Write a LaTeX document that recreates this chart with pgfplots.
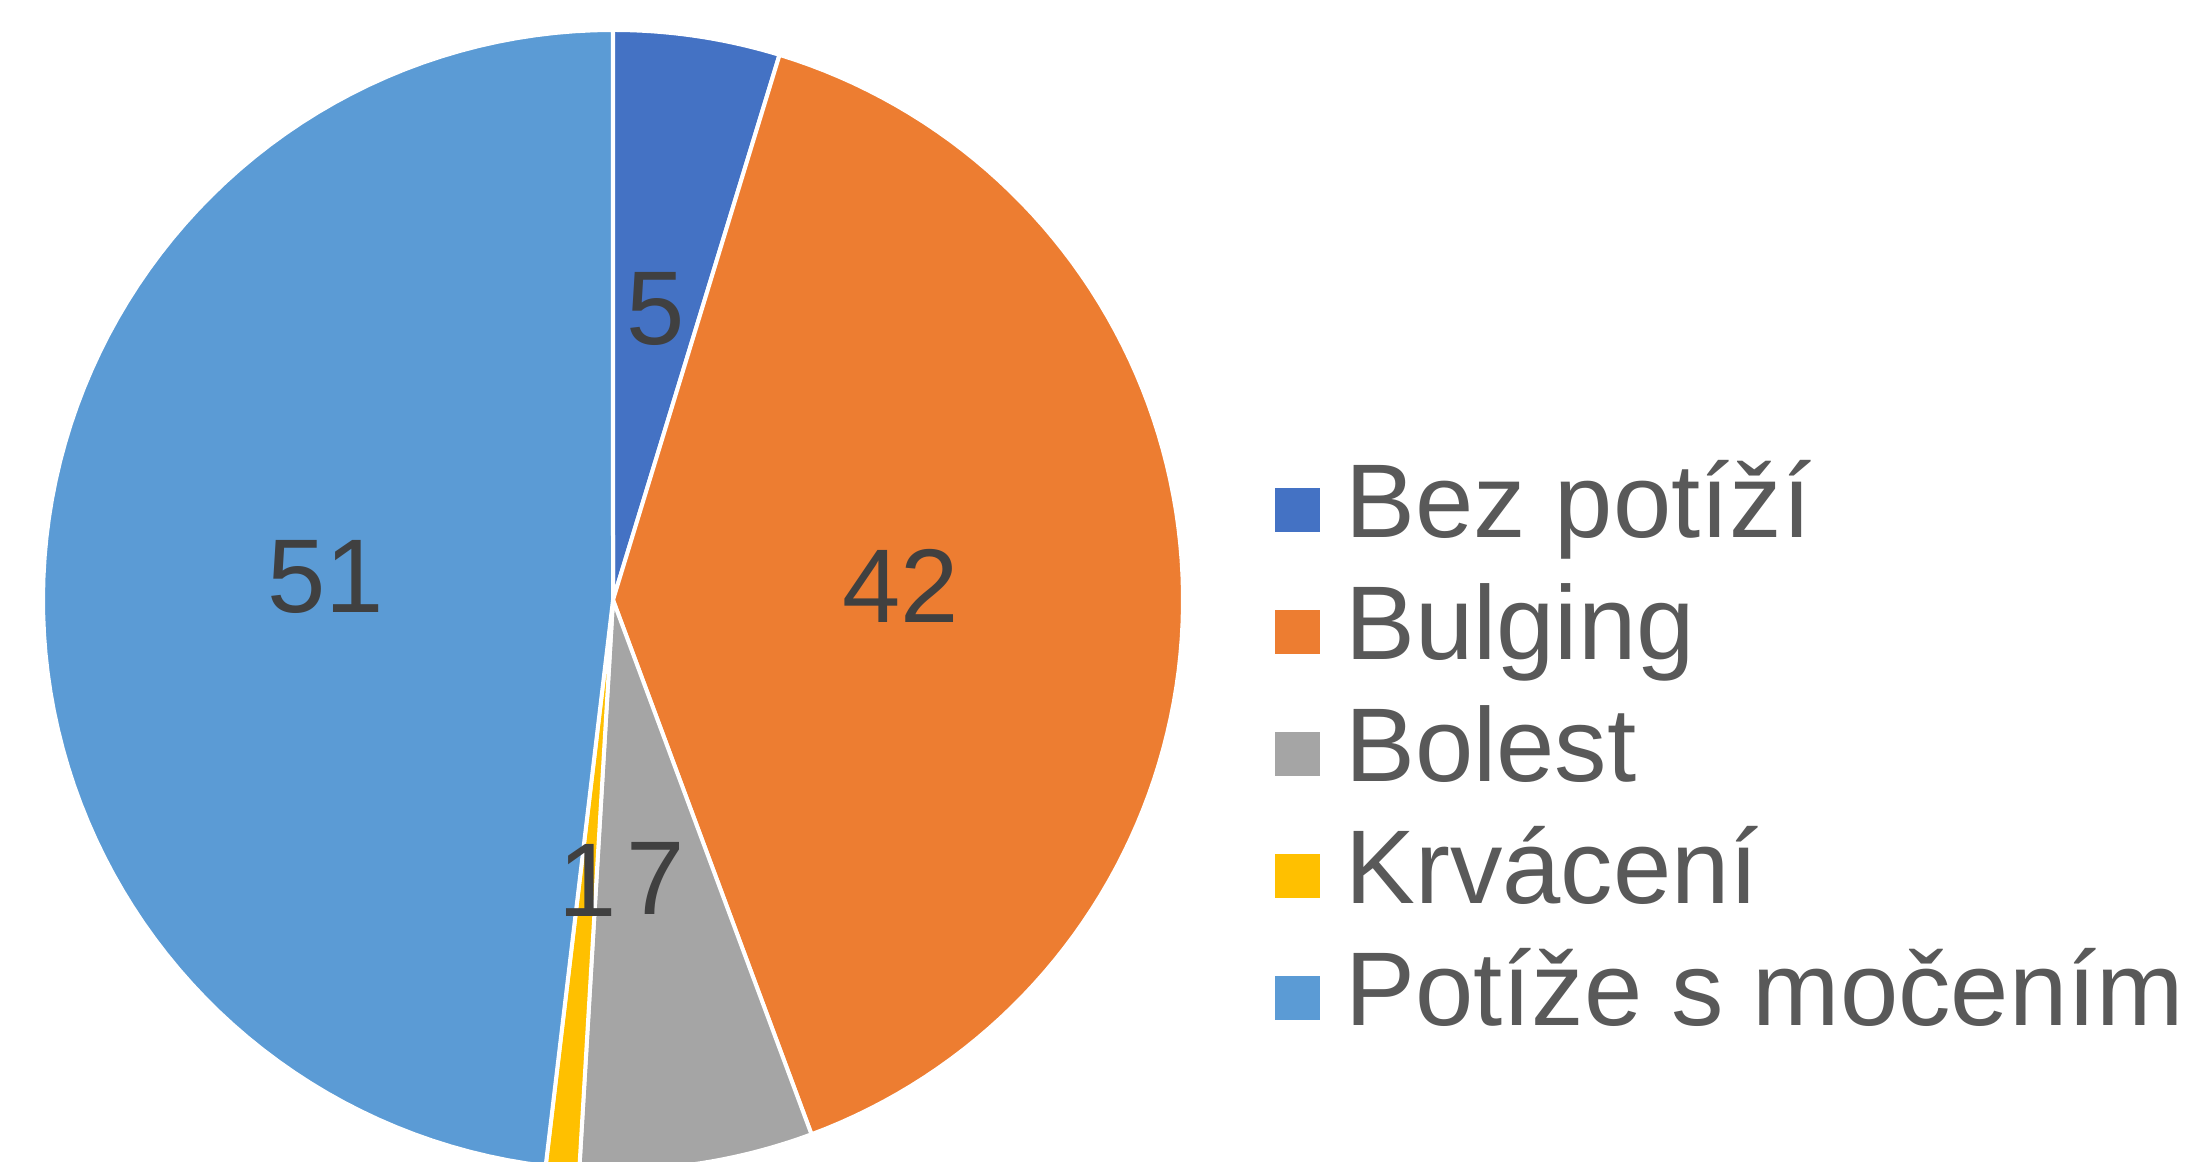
\documentclass[border=0pt]{standalone}
\usepackage{fontspec}
\setmainfont{Liberation Sans}
\usepackage{pgfplots}
\pgfplotsset{compat=1.18}
\definecolor{cA}{HTML}{4472C4}
\definecolor{cB}{HTML}{ED7D31}
\definecolor{cC}{HTML}{A5A5A5}
\definecolor{cD}{HTML}{FFC000}
\definecolor{cE}{HTML}{5B9BD5}
\definecolor{lbl}{HTML}{404040}
\definecolor{legtxt}{HTML}{595959}
\begin{document}
\begin{tikzpicture}
% values: Bez potizi 5, Bulging 42, Bolest 7, Krvaceni 1, Potize s mocenim 51
\pgfmathsetmacro{\vA}{5}
\pgfmathsetmacro{\vB}{42}
\pgfmathsetmacro{\vC}{7}
\pgfmathsetmacro{\vD}{1}
\pgfmathsetmacro{\vE}{51}
\pgfmathsetmacro{\tot}{\vA+\vB+\vC+\vD+\vE}
\pgfmathsetmacro{\aA}{90}
\pgfmathsetmacro{\aB}{\aA-\vA/\tot*360}
\pgfmathsetmacro{\aC}{\aB-\vB/\tot*360}
\pgfmathsetmacro{\aD}{\aC-\vC/\tot*360}
\pgfmathsetmacro{\aE}{\aD-\vD/\tot*360}
\pgfmathsetmacro{\aF}{\aE-\vE/\tot*360}
\def\cx{613}\def\cy{562}\def\rr{570}
\pgfmathsetmacro{\lr}{0.505*\rr}
\pgfmathsetmacro{\ly}{\cy+6}
\pgfmathsetmacro{\lAx}{\cx+\lr*cos((\aA+\aB)/2)}\pgfmathsetmacro{\lAy}{\ly+\lr*sin((\aA+\aB)/2)}
\pgfmathsetmacro{\lBx}{\cx+\lr*cos((\aB+\aC)/2)}\pgfmathsetmacro{\lBy}{\ly+\lr*sin((\aB+\aC)/2)}
\pgfmathsetmacro{\lCx}{\cx+\lr*cos((\aC+\aD)/2)}\pgfmathsetmacro{\lCy}{\ly+\lr*sin((\aC+\aD)/2)}
\pgfmathsetmacro{\lDx}{\cx+\lr*cos((\aD+\aE)/2)}\pgfmathsetmacro{\lDy}{\ly+\lr*sin((\aD+\aE)/2)}
\pgfmathsetmacro{\lEx}{\cx+\lr*cos((\aE+\aF)/2)}\pgfmathsetmacro{\lEy}{\ly+\lr*sin((\aE+\aF)/2)}
\clip (0,0) rectangle (550.5pt,290.5pt);
\begin{axis}[
  x=0.25pt, y=0.25pt,
  xmin=0, xmax=2202, ymin=0, ymax=1162,
  hide axis,
  at={(0pt,0pt)}, anchor=south west,
  clip=false,
  samples=90,
  legend image code/.code={\path[#1,draw=none] (0pt,-5.6pt) rectangle (11.25pt,5.6pt);},
  legend style={draw=none, fill=none, inner sep=0pt, outer sep=0pt,
    at={(axis cs:1275,408)}, anchor=west,
    font=\fontsize{26.2pt}{31pt}\selectfont, text=legtxt,
    row sep=4.5pt, column sep=6.3pt,
    nodes={inner sep=0pt, text height=20pt, text depth=6pt}},
  legend cell align=left,
  every axis plot/.append style={draw=white, line width=1pt},
]
\addplot[fill=cA, domain=\aB:\aA, variable=\t] ({\cx+\rr*cos(\t)},{\cy+\rr*sin(\t)}) -- (axis cs:\cx,\cy) -- cycle;
\addlegendentry{Bez potíží}
\addplot[fill=cB, domain=\aC:\aB, variable=\t] ({\cx+\rr*cos(\t)},{\cy+\rr*sin(\t)}) -- (axis cs:\cx,\cy) -- cycle;
\addlegendentry{Bulging}
\addplot[fill=cC, domain=\aD:\aC, variable=\t] ({\cx+\rr*cos(\t)},{\cy+\rr*sin(\t)}) -- (axis cs:\cx,\cy) -- cycle;
\addlegendentry{Bolest}
\addplot[fill=cD, domain=\aE:\aD, variable=\t, samples=10] ({\cx+\rr*cos(\t)},{\cy+\rr*sin(\t)}) -- (axis cs:\cx,\cy) -- cycle;
\addlegendentry{Krvácení}
\addplot[fill=cE, domain=\aF:\aE, variable=\t] ({\cx+\rr*cos(\t)},{\cy+\rr*sin(\t)}) -- (axis cs:\cx,\cy) -- cycle;
\addlegendentry{Potíže s močením}
\begin{scope}[every node/.style={font=\fontsize{26.2pt}{31pt}\selectfont, text=lbl, inner sep=0pt}]
\node at (axis cs:\lAx,\lAy) {5};
\node at (axis cs:\lBx,\lBy) {42};
\node at (axis cs:\lCx,\lCy) {7};
\node at (axis cs:\lDx,\lDy) {1};
\node at (axis cs:\lEx,\lEy) {51};
\end{scope}
\end{axis}
\end{tikzpicture}
\end{document}
